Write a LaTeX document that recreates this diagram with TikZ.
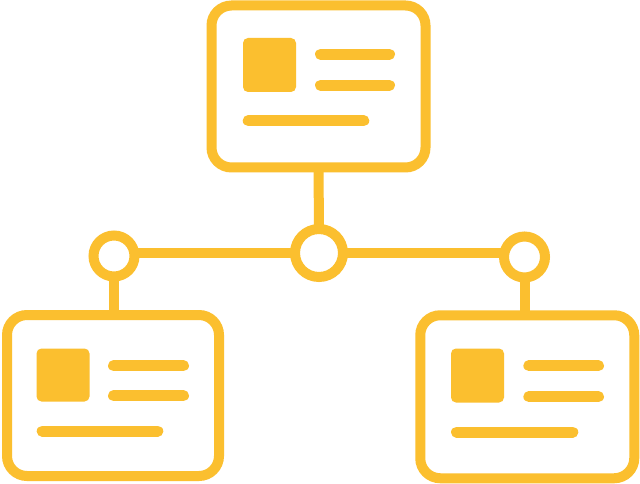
\documentclass[tikz,border=0pt]{standalone}
\usetikzlibrary{backgrounds}
\begin{document}
\begin{tikzpicture}[x=1pt,y=-1pt,
  every node/.style={inner sep=0pt,outer sep=0pt},
  card/.style={draw=amb,line width=10pt,rounded corners=20pt,fill=white},
  hub/.style={draw=amb,line width=10pt,circle,fill=white},
  conn/.style={draw=amb,line width=10pt},
  photo/.style={fill=amb,rounded corners=5pt},
  txt/.style={draw=amb,line width=11pt,line cap=round}]
\definecolor{amb}{HTML}{FBBF2F}
\useasboundingbox (0,0) rectangle (640,484);
% cards
\node[card,minimum width=214pt,minimum height=162pt] (top) at (318.5,86.5) {};
\node[card,minimum width=212pt,minimum height=161pt] (lb) at (113,395.5) {};
\node[card,minimum width=214pt,minimum height=163pt] (rb) at (527.25,396.75) {};
% hubs
\node[hub,minimum size=41pt] (lc) at (114,256) {};
\node[hub,minimum size=48pt] (cc) at (319,253) {};
\node[hub,minimum size=41pt] (rc) at (524.5,257) {};
% connectors
\begin{scope}[on background layer]
\fill[white] (0,0) rectangle (640,484);
\draw[conn] (top.south) -- (cc.north);
\draw[conn] (lc.center |- cc.center) -- (cc.center);
\draw[conn] (cc.center) -- (rc.center |- cc.center);
\draw[conn] (lc.center) -- (lc.center |- lb.north);
\draw[conn] (rc.center) -- (rc.center |- rb.north);
\end{scope}
% top card content
\node[photo,minimum width=53pt,minimum height=54pt] (tp) at (269.5,65) {};
\draw[txt] (320.5,54.3) -- (389.5,54.3);
\draw[txt] (320.5,85.3) -- (389.5,85.3);
\draw[txt] (248.2,120.7) -- (363.8,120.7);
% left card content
\node[photo,minimum width=53pt,minimum height=53pt] (lp) at (63,375) {};
\draw[txt] (113.5,365.7) -- (183.5,365.7);
\draw[txt] (113.5,395.7) -- (183.5,395.7);
\draw[txt] (42.2,431) -- (157.8,431);
% right card content
\node[photo,minimum width=53pt,minimum height=54pt] (rp) at (477.5,375.5) {};
\draw[txt] (528.8,365.7) -- (598.5,365.7);
\draw[txt] (528.8,396.7) -- (598.5,396.7);
\draw[txt] (456.5,432) -- (572.8,432);
\end{tikzpicture}
\end{document}
